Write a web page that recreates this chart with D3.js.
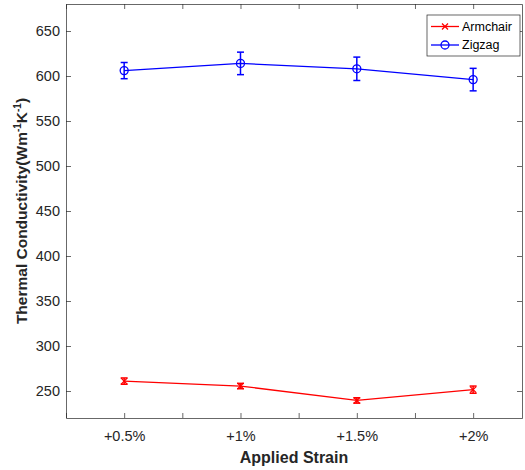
<!DOCTYPE html>
<html>
<head>
<meta charset="utf-8">
<script src="https://cdnjs.cloudflare.com/ajax/libs/d3/7.8.5/d3.min.js"></script>
<style>
  body { margin: 0; background: #fff; }
  svg { display: block; font-family: "Liberation Sans", Arial, sans-serif; }
</style>
</head>
<body>
<svg width="525" height="470"></svg>
<script>
// data
var strains = [0.5, 1, 1.5, 2];
var strainLabels = ["+0.5%", "+1%", "+1.5%", "+2%"];
var armchair = [261, 255.5, 239.5, 251.5];
var armchairErr = [3.5, 3, 3, 4];
var zigzag = [606, 614, 608, 596];
var zigzagErr = [9, 12.5, 13, 12.5];
var yTicks = [250, 300, 350, 400, 450, 500, 550, 600, 650];
var xTicks = [0.25, 0.5, 0.75, 1, 1.25, 1.5, 1.75, 2];

window.onload = function() {
	var margin = {top: 4, right: 3, bottom: 52, left: 66};
	var width = 525 - margin.left - margin.right;
	var height = 470 - margin.top - margin.bottom;
	var axisCol = "#262626";

	var svg = d3.select("svg");
	var g = svg.append("g").attr("transform", "translate(" + margin.left + "," + margin.top + ")");

	var x = d3.scaleLinear().domain([0.25, 2.21]).range([0, width]);
	var y = d3.scaleLinear().domain([220, 680]).range([height, 0]);

	//axes, ticks inward like matlab
	var fmtX = function(d) { var i = strains.indexOf(d); return i < 0 ? "" : strainLabels[i]; };
	var xAx = g.append("g").attr("transform", "translate(0," + height + ")")
		.call(d3.axisBottom(x).tickValues(xTicks).tickSizeInner(-5).tickSizeOuter(0).tickPadding(13).tickFormat(fmtX));
	var xTop = g.append("g")
		.call(d3.axisTop(x).tickValues(xTicks).tickSizeInner(-5).tickSizeOuter(0).tickFormat(""));
	var yAx = g.append("g")
		.call(d3.axisLeft(y).tickValues(yTicks).tickSizeInner(-5).tickSizeOuter(0).tickPadding(6));
	var yRight = g.append("g").attr("transform", "translate(" + width + ",0)")
		.call(d3.axisRight(y).tickValues(yTicks).tickSizeInner(-5).tickSizeOuter(0).tickFormat(""));
	[xAx, xTop, yAx, yRight].forEach(function(a) {
		a.selectAll("path, line").attr("stroke", axisCol).attr("stroke-width", 0.7);
		a.selectAll("text").attr("fill", axisCol).attr("font-size", 14.5);
	});

	var line = d3.line().x(function(d) { return x(d[0]); }).y(function(d) { return y(d[1]); });

	function drawSeries(vals, errs, col, marker) {
		var pts = strains.map(function(s, i) { return [s, vals[i], errs[i]]; });
		var sg = g.append("g");
		sg.append("path").datum(pts).attr("d", line)
			.attr("fill", "none").attr("stroke", col).attr("stroke-width", 1.3);
		var eb = sg.selectAll(".eb").data(pts).enter().append("g").attr("class", "eb");
		eb.append("line")
			.attr("x1", function(d) { return x(d[0]); }).attr("x2", function(d) { return x(d[0]); })
			.attr("y1", function(d) { return y(d[1] - d[2]); }).attr("y2", function(d) { return y(d[1] + d[2]); });
		eb.append("line")
			.attr("x1", function(d) { return x(d[0]) - 3.5; }).attr("x2", function(d) { return x(d[0]) + 3.5; })
			.attr("y1", function(d) { return y(d[1] + d[2]); }).attr("y2", function(d) { return y(d[1] + d[2]); });
		eb.append("line")
			.attr("x1", function(d) { return x(d[0]) - 3.5; }).attr("x2", function(d) { return x(d[0]) + 3.5; })
			.attr("y1", function(d) { return y(d[1] - d[2]); }).attr("y2", function(d) { return y(d[1] - d[2]); });
		eb.selectAll("line").attr("stroke", col).attr("stroke-width", 1.5);
		pts.forEach(function(d) { marker(sg, x(d[0]), y(d[1]), col); });
	}

	function xMark(p, cx, cy, col) {
		p.append("path").attr("d", "M" + (cx - 3) + "," + (cy - 3) + "L" + (cx + 3) + "," + (cy + 3) +
			"M" + (cx - 3) + "," + (cy + 3) + "L" + (cx + 3) + "," + (cy - 3))
			.attr("stroke", col).attr("stroke-width", 1.3).attr("fill", "none");
	}
	function oMark(p, cx, cy, col) {
		p.append("circle").attr("cx", cx).attr("cy", cy).attr("r", 4)
			.attr("stroke", col).attr("stroke-width", 1.3).attr("fill", "none");
	}

	drawSeries(armchair, armchairErr, "#ff0000", xMark);
	drawSeries(zigzag, zigzagErr, "#0000ff", oMark);

	//legend
	var lg = svg.append("g").attr("transform", "translate(427,15)");
	lg.append("rect").attr("width", 93).attr("height", 41)
		.attr("fill", "#fff").attr("stroke", axisCol).attr("stroke-width", 0.7);
	var items = [["Armchair", "#ff0000", xMark], ["Zigzag", "#0000ff", oMark]];
	items.forEach(function(it, i) {
		var ly = 11.5 + i * 18.5;
		lg.append("line").attr("x1", 4).attr("x2", 32).attr("y1", ly).attr("y2", ly)
			.attr("stroke", it[1]).attr("stroke-width", 1.3);
		it[2](lg, 18, ly, it[1]);
		lg.append("text").attr("x", 35).attr("y", ly).attr("dy", "0.35em")
			.attr("font-size", 12.5).attr("fill", "#000").text(it[0]);
	});

	//axis titles
	svg.append("text").attr("x", margin.left + width / 2).attr("y", 463)
		.attr("text-anchor", "middle").attr("font-size", 16).attr("font-weight", "bold")
		.attr("fill", axisCol).text("Applied Strain");
	var yt = svg.append("text").attr("transform", "translate(27," + (margin.top + height / 2) + ") rotate(-90)")
		.attr("text-anchor", "middle").attr("font-size", 15.5).attr("font-weight", "bold").attr("fill", axisCol);
	yt.append("tspan").text("Thermal Conductivity(Wm");
	yt.append("tspan").attr("font-size", 10).attr("dy", -6).text("-1");
	yt.append("tspan").attr("dy", 6).text("K");
	yt.append("tspan").attr("font-size", 10).attr("dy", -6).text("-1");
	yt.append("tspan").attr("dy", 6).text(")");
}
</script>
</body>
</html>
